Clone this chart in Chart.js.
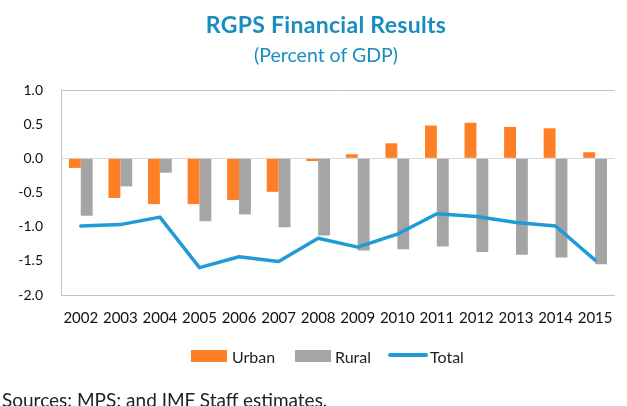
<!DOCTYPE html>
<html>
<head>
<meta charset="utf-8">
<script src="https://cdn.jsdelivr.net/npm/chart.js@4/dist/chart.umd.min.js"></script>
<style>
  body { margin: 0; width: 627px; height: 406px; overflow: hidden; background: #fff; font-family: Lato, "Open Sans", sans-serif; }
  #wrap { position: relative; width: 627px; height: 406px; }
  #chart { position: absolute; left: 0; top: 0; }
  .title { position: absolute; left: 0; width: 652px; text-align: center; color: #1a8cbf; line-height: 1.2; }
  #t1 { top: 11px; font-size: 23px; font-weight: bold; letter-spacing: 0.3px; }
  #t2 { top: 43px; font-size: 19.5px; }
  .lt { position: absolute; top: 347px; font-size: 16px; line-height: 1.2; color: #222; }
  .sw { position: absolute; top: 350px; width: 36px; height: 12px; }
  .ln { position: absolute; top: 353px; left: 388px; width: 40px; height: 4px; border-radius: 2px; background: #1f9bd7; }
  #src { position: absolute; left: 2px; top: 389px; font-size: 19px; line-height: 1.2; color: #222; white-space: nowrap; }
</style>
</head>
<body>
<div id="wrap">
  <canvas id="chart" width="627" height="406"></canvas>
  <div class="title" id="t1">RGPS Financial Results</div>
  <div class="title" id="t2">(Percent of GDP)</div>
  <span class="sw" style="left:191px; background:#ff7f27"></span><span class="lt" style="left:232px">Urban</span>
  <span class="sw" style="left:295px; background:#a5a5a5"></span><span class="lt" style="left:335px">Rural</span>
  <span class="ln"></span><span class="lt" style="left:430px">Total</span>
  <div id="src">Sources: MPS; and IMF Staff estimates.</div>
</div>
<script>
const years = ["2002", "2003", "2004", "2005", "2006", "2007", "2008", "2009", "2010", "2011", "2012", "2013", "2014", "2015"];
const urban = [-0.14, -0.58, -0.67, -0.67, -0.61, -0.49, -0.04, 0.06, 0.22, 0.48, 0.52, 0.46, 0.44, 0.09];
const rural = [-0.84, -0.41, -0.21, -0.92, -0.82, -1.01, -1.13, -1.35, -1.33, -1.29, -1.37, -1.41, -1.45, -1.55];
const total = [-0.99, -0.97, -0.86, -1.60, -1.44, -1.51, -1.17, -1.30, -1.11, -0.81, -0.85, -0.94, -0.99, -1.49];
const yTicks = { min: -2, max: 1, step: 0.5 };

new Chart(document.getElementById("chart"), {
    type: "bar",
    data: {
        labels: years,
        datasets: [
            {
                type: "line",
                label: "Total",
                data: total,
                borderColor: "#1f9bd7",
                borderWidth: 3.5,
                pointRadius: 0,
                tension: 0,
                borderJoinStyle: "round",
                borderCapStyle: "round",
                order: 0
            },
            {
                label: "Urban",
                data: urban,
                backgroundColor: "#ff7f27",
                order: 1
            },
            {
                label: "Rural",
                data: rural,
                backgroundColor: "#a5a5a5",
                order: 1
            }
        ]
    },
    options: {
        responsive: false,
        animation: false,
        layout: { padding: { top: 90, right: 0, bottom: 64, left: 0 } },
        datasets: {
            bar: { categoryPercentage: 0.6, barPercentage: 1.0 }
        },
        plugins: {
            legend: { display: false },
            tooltip: { enabled: false }
        },
        scales: {
            x: {
                grid: { display: true, color: "rgba(0,0,0,0)", drawTicks: false },
                border: { display: true, color: "#c4c4c4" },
                ticks: { color: "#111", font: { family: "Lato, 'Open Sans', sans-serif", size: 15 }, padding: 14.5, maxRotation: 0, autoSkip: false }
            },
            y: {
                min: yTicks.min,
                max: yTicks.max,
                afterFit: s => { s.width = 61; },
                grid: {
                    drawTicks: false,
                    color: c => c.tick.value === 0 ? "#d9d9d9" : (c.tick.value === yTicks.max ? "#c4c4c4" : "rgba(0,0,0,0)")
                },
                border: { display: true, color: "#c4c4c4" },
                ticks: {
                    stepSize: yTicks.step,
                    color: "#111",
                    font: { family: "Lato, 'Open Sans', sans-serif", size: 14 },
                    padding: 18,
                    callback: v => v.toFixed(1)
                }
            }
        }
    }
});
</script>
</body>
</html>
